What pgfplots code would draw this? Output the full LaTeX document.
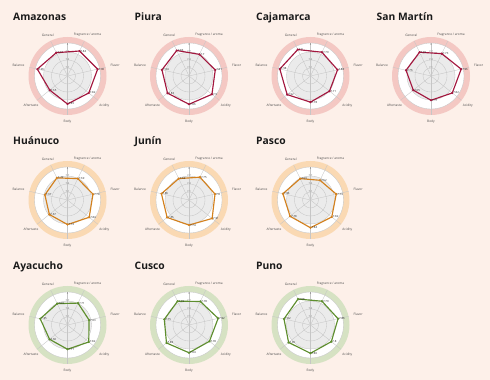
\documentclass[border=0pt]{standalone}
\usepackage{fontspec}
\setmainfont{Open Sans}
\usepackage{pgfplots}
\usepackage{pgfplotstable}
\pgfplotsset{compat=1.18}

\definecolor{bgc}{HTML}{FDF0E9}
\definecolor{redl}{HTML}{A3183F}
\definecolor{redb}{HTML}{F4C8C3}
\definecolor{orgl}{HTML}{D3811E}
\definecolor{orgb}{HTML}{FAD9B3}
\definecolor{grnl}{HTML}{5E8E2E}
\definecolor{grnb}{HTML}{D6E2C3}
\definecolor{gfill}{HTML}{EBEBEB}
\definecolor{gline}{HTML}{C6C6C6}
\definecolor{titc}{HTML}{1A1A1A}

% order: General, Fragrance/aroma, Flavor, Acidity, Body, Aftertaste, Balance (closing row repeated)
\pgfplotstableread{
ang val
115.714 7.77
64.286 7.84
12.857 7.96
321.429 7.82
270 7.85
218.571 7.65
167.143 7.96
115.714 7.77
}\tAmazonas
\pgfplotstableread{
ang val
115.714 7.86
64.286 7.70
12.857 7.81
321.429 7.90
270 7.86
218.571 7.83
167.143 7.84
115.714 7.86
}\tPiura
\pgfplotstableread{
ang val
115.714 7.90
64.286 7.79
12.857 7.84
321.429 7.71
270 7.78
218.571 7.92
167.143 7.98
115.714 7.90
}\tCajamarca
\pgfplotstableread{
ang val
115.714 7.79
64.286 7.73
12.857 7.96
321.429 7.82
270 7.71
218.571 7.65
167.143 7.76
115.714 7.79
}\tSanMartin
\pgfplotstableread{
ang val
115.714 7.72
64.286 7.69
12.857 7.78
321.429 7.84
270 7.72
218.571 7.67
167.143 7.67
115.714 7.72
}\tHuanuco
\pgfplotstableread{
ang val
115.714 7.69
64.286 7.75
12.857 7.80
321.429 7.91
270 7.74
218.571 7.85
167.143 7.86
115.714 7.69
}\tJunin
\pgfplotstableread{
ang val
115.714 7.69
64.286 7.62
12.857 7.79
321.429 7.82
270 7.84
218.571 7.78
167.143 7.86
115.714 7.69
}\tPasco
\pgfplotstableread{
ang val
115.714 7.69
64.286 7.71
12.857 7.63
321.429 7.82
270 7.71
218.571 7.66
167.143 7.85
115.714 7.69
}\tAyacucho
\pgfplotstableread{
ang val
115.714 7.79
64.286 7.78
12.857 7.92
321.429 7.78
270 7.84
218.571 7.88
167.143 7.75
115.714 7.79
}\tCusco
\pgfplotstableread{
ang val
115.714 7.88
64.286 7.79
12.857 7.86
321.429 7.80
270 7.86
218.571 7.85
167.143 7.82
115.714 7.88
}\tPuno

\newcommand{\catfont}{\fontsize{3.2}{3.6}\selectfont}
\newcommand{\valfont}{\fontsize{2.8}{3.2}\selectfont}
\newcommand{\tickfont}{\fontsize{2.6}{3}\selectfont}

% #1 cx, #2 cy (pt), #3 title, #4 line colour, #5 band colour, #6 table
\newcommand{\panel}[6]{%
  \begin{scope}[shift={(#1pt,#2pt)}]
    \fill[#5] (0,0) circle (39pt);
    \fill[white] (0,0) circle (33pt);
    \fill[gfill] (0,0) circle (24pt);
    \draw[gline, line width=0.35pt] (0,0) circle (8pt);
    \draw[gline, line width=0.35pt] (0,0) circle (16pt);
    \draw[gline, line width=0.35pt] (0,0) circle (24pt);
    \draw[gline, line width=0.35pt] (0,0) circle (33pt);
    \foreach \a in {115.714,64.286,12.857,321.429,270,218.571,167.143}
      {\draw[gline, line width=0.35pt] (0,0) -- (\a:39pt);}
    \draw[gline, line width=0.35pt] (0,0) -- (90:33pt);
    \node[text=black!55, font=\tickfont, inner sep=0.3pt] at (90:8pt) {7.1};
    \node[text=black!55, font=\tickfont, inner sep=0.3pt] at (90:16pt) {7.4};
    \node[text=black!55, font=\tickfont, inner sep=0.3pt] at (90:24pt) {7.7};
    \node[text=black!55, font=\tickfont, inner sep=0.3pt] at (90:31pt) {8};
    \node[text=black!70, font=\catfont, inner sep=0.5pt, anchor=295.714] at (115.714:43.5pt) {General};
    \node[text=black!70, font=\catfont, inner sep=0.5pt, anchor=244.286] at (64.286:43.5pt) {Fragrance / aroma};
    \node[text=black!70, font=\catfont, inner sep=0.5pt, anchor=192.857] at (12.857:43.5pt) {Flavor};
    \node[text=black!70, font=\catfont, inner sep=0.5pt, anchor=141.429] at (321.429:43.5pt) {Acidity};
    \node[text=black!70, font=\catfont, inner sep=0.5pt, anchor=north] at (270:43pt) {Body};
    \node[text=black!70, font=\catfont, inner sep=0.5pt, anchor=38.571] at (218.571:43.5pt) {Aftertaste};
    \node[text=black!70, font=\catfont, inner sep=0.5pt, anchor=347.143] at (167.143:43.5pt) {Balance};
  \end{scope}
  \node[anchor=base west, inner sep=0pt, text=titc, font=\bfseries\fontsize{10.3}{12}\selectfont] at (#1pt-54.5pt, #2pt+55pt) {#3};
  \begin{axis}[at={(#1pt,#2pt)}, anchor=center, scale only axis, width=100pt, height=100pt,
      xmin=-50, xmax=50, ymin=-50, ymax=50, hide axis, clip=false]
    \addplot[draw=#4, line width=1.15pt, line join=round] table[
        x expr={(\thisrow{val}-6.8)*26.667*cos(\thisrow{ang})},
        y expr={(\thisrow{val}-6.8)*26.667*sin(\thisrow{ang})}] {#6};
    \addplot[only marks, mark=*, mark size=0.9pt, color=#4,
        skip coords between index={7}{8},
        point meta=\thisrow{val},
        nodes near coords,
        nodes near coords style={anchor=west, xshift=0.6pt, font=\valfont, text=black!85, inner sep=0.3pt,
          /pgf/number format/.cd, fixed, precision=2, assume math mode=true}]
      table[
        x expr={(\thisrow{val}-6.8)*26.667*cos(\thisrow{ang})},
        y expr={(\thisrow{val}-6.8)*26.667*sin(\thisrow{ang})}] {#6};
  \end{axis}%
}

\begin{document}
\begin{tikzpicture}
\path[use as bounding box] (0,0) rectangle (490pt,380pt);
\fill[bgc] (0,0) rectangle (490pt,380pt);
\panel{67.5}{304}{Amazonas}{redl}{redb}{\tAmazonas}
\panel{189}{304}{Piura}{redl}{redb}{\tPiura}
\panel{310.5}{304}{Cajamarca}{redl}{redb}{\tCajamarca}
\panel{431}{304}{San Martín}{redl}{redb}{\tSanMartin}
\panel{67.5}{180}{Huánuco}{orgl}{orgb}{\tHuanuco}
\panel{189}{180}{Junín}{orgl}{orgb}{\tJunin}
\panel{310.5}{180}{Pasco}{orgl}{orgb}{\tPasco}
\panel{67.5}{55}{Ayacucho}{grnl}{grnb}{\tAyacucho}
\panel{189}{55}{Cusco}{grnl}{grnb}{\tCusco}
\panel{310.5}{55}{Puno}{grnl}{grnb}{\tPuno}
\end{tikzpicture}
\end{document}
